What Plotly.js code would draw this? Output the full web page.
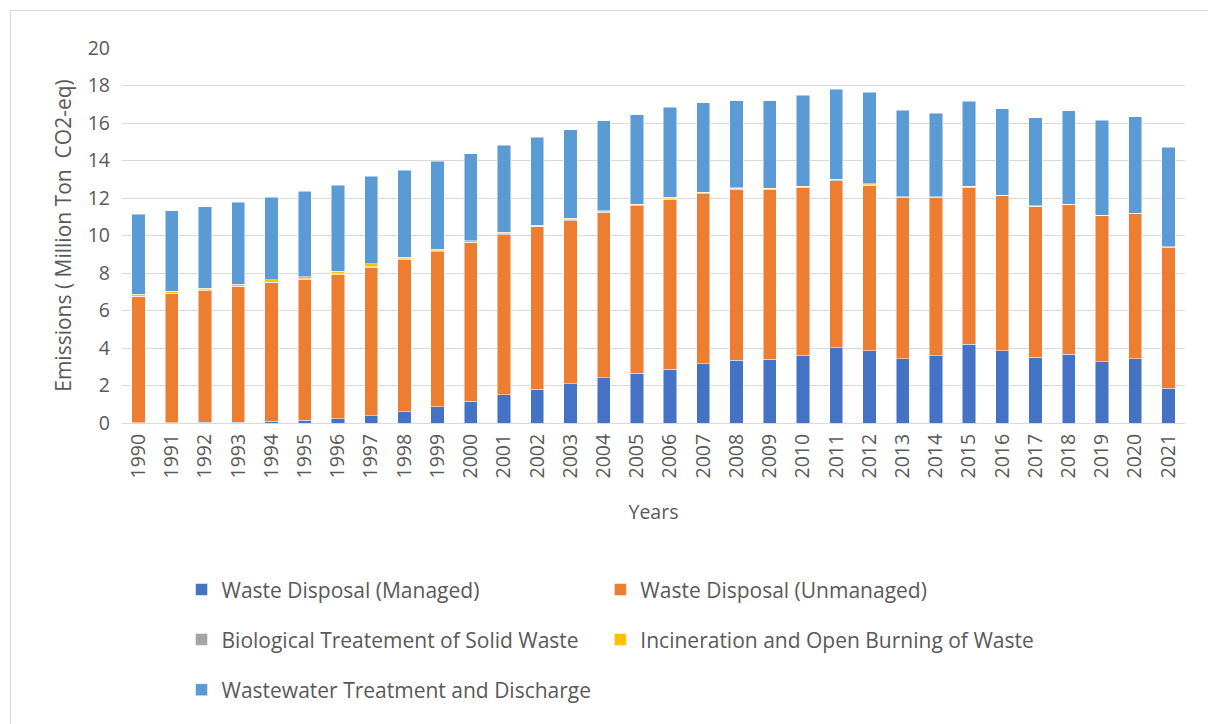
<!DOCTYPE html>
<html>
<head>
<meta charset="utf-8">
<script src="https://cdn.plot.ly/plotly-3.0.1.min.js"></script>
<style>
  html, body { margin: 0; padding: 0; background: #fff; }
  #frame { position: absolute; left: 10px; top: 10px; width: 1210px; height: 730px; border: 1px solid #d9d9d9; box-sizing: border-box; }
  #chart { position: absolute; left: 0; top: 0; width: 1208px; height: 724px; }
</style>
</head>
<body>
<div id="frame"></div>
<div id="chart"></div>
<script>
const years = ["1990","1991","1992","1993","1994","1995","1996","1997","1998","1999","2000","2001","2002","2003","2004","2005","2006","2007","2008","2009","2010","2011","2012","2013","2014","2015","2016","2017","2018","2019","2020","2021"];

const managed = [0.02,0.02,0.03,0.05,0.09,0.15,0.22,0.40,0.60,0.87,1.17,1.51,1.81,2.10,2.42,2.65,2.88,3.16,3.36,3.40,3.59,4.02,3.86,3.43,3.59,4.21,3.86,3.50,3.66,3.27,3.43,1.85];
const unmanaged = [6.72,6.88,7.05,7.22,7.38,7.51,7.71,7.90,8.13,8.27,8.45,8.52,8.66,8.69,8.82,8.94,9.05,9.07,9.10,9.06,8.98,8.90,8.82,8.61,8.45,8.36,8.25,8.04,7.97,7.79,7.72,7.52];
const biological = [0.02,0.02,0.02,0.02,0.03,0.03,0.03,0.04,0.04,0.04,0.03,0.06,0.03,0.08,0.04,0.05,0.04,0.04,0.05,0.04,0.04,0.06,0.03,0.02,0.02,0.05,0.03,0.03,0.03,0.02,0.02,0.02];
const incineration = [0.12,0.12,0.10,0.12,0.13,0.10,0.13,0.16,0.08,0.08,0.06,0.08,0.06,0.06,0.03,0.04,0.07,0.05,0.04,0.03,0.03,0.03,0.04,0.01,0.01,0.02,0.02,0.02,0.02,0.01,0.01,0.01];
const wastewater = [4.25,4.28,4.34,4.36,4.42,4.58,4.59,4.67,4.64,4.69,4.64,4.64,4.68,4.70,4.80,4.76,4.81,4.76,4.64,4.66,4.83,4.78,4.89,4.60,4.44,4.51,4.59,4.68,4.98,5.05,5.16,5.32];

const yTicks = [0,2,4,6,8,10,12,14,16,18,20];

const names = ["Waste Disposal (Managed)", "Waste Disposal (Unmanaged)", "Biological Treatement of Solid Waste", "Incineration and Open Burning of Waste", "Wastewater Treatment and Discharge"];
const colors = ["#4472C4", "#ED7D31", "#A5A5A5", "#FFC000", "#5B9BD5"];
const series = [managed, unmanaged, biological, incineration, wastewater];
const legendIds = ["legend", "legend2", "legend3", "legend4", "legend5"];

const FONT = "'Open Sans', Lato, sans-serif";
const GREY = "#595959";

const traces = series.map((vals, i) => ({
  type: "bar",
  x: years,
  y: vals,
  name: names[i],
  legend: legendIds[i],
  marker: { color: colors[i], line: { color: "rgba(255,255,255,0.6)", width: 0.8 } },
  hoverinfo: "x+y+name"
}));

const legendBase = {
  orientation: "h",
  xanchor: "left",
  yanchor: "middle",
  font: { family: FONT, size: 21, color: GREY },
  bgcolor: "rgba(0,0,0,0)"
};
const colX = [0.056, 0.45];
const rowY = [-0.445, -0.578, -0.712];

const layout = {
  width: 1208,
  height: 724,
  margin: { l: 122, r: 23, t: 48, b: 301 },
  paper_bgcolor: "rgba(0,0,0,0)",
  plot_bgcolor: "rgba(0,0,0,0)",
  barmode: "stack",
  bargap: 0.6,
  font: { family: FONT, size: 19, color: GREY },
  xaxis: {
    type: "category",
    tickangle: -90,
    tickfont: { family: FONT, size: 19.5, color: GREY },
    showgrid: false,
    showline: false,
    ticks: "",
    ticklabelstandoff: 6,
    title: { text: "Years", font: { family: FONT, size: 19.5, color: GREY }, standoff: 27 }
  },
  yaxis: {
    range: [0, 20],
    tickvals: yTicks,
    ticktext: yTicks.map(String),
    showgrid: true,
    gridcolor: "#d9d9d9",
    gridwidth: 1,
    zeroline: true,
    zerolinecolor: "#d9d9d9",
    zerolinewidth: 1,
    showline: false,
    ticks: "",
    ticklabelstandoff: 11,
    tickfont: { family: FONT, size: 19.5, color: GREY },
    title: { text: "Emissions ( Million Ton\u00a0 CO2-eq)", font: { family: FONT, size: 21, color: GREY }, standoff: 10 }
  },
  legend: Object.assign({}, legendBase, { x: colX[0], y: rowY[0] }),
  legend2: Object.assign({}, legendBase, { x: colX[1], y: rowY[0] }),
  legend3: Object.assign({}, legendBase, { x: colX[0], y: rowY[1] }),
  legend4: Object.assign({}, legendBase, { x: colX[1], y: rowY[1] }),
  legend5: Object.assign({}, legendBase, { x: colX[0], y: rowY[2] }),
  showlegend: true
};

Plotly.newPlot("chart", traces, layout, { displayModeBar: false, responsive: false });
</script>
</body>
</html>
